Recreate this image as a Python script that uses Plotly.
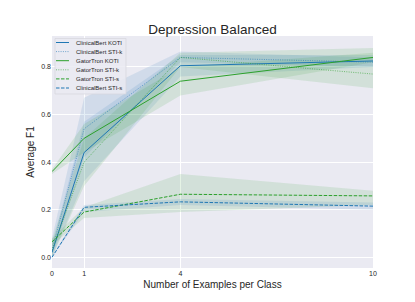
import plotly.graph_objects as go

x = [0, 1, 4, 10]

series_names = ["ClinicalBert KOTI", "ClinicalBert STI-k", "GatorTron KOTI",
                "GatorTron STI-k", "GatorTron STI-s", "ClinicalBert STI-s"]

cb_koti = [0.02, 0.44, 0.805, 0.825]
cb_koti_lo = [0.0, 0.32, 0.76, 0.80]
cb_koti_hi = [0.05, 0.57, 0.85, 0.85]

cb_stik = [0.03, 0.54, 0.84, 0.82]
cb_stik_lo = [0.0, 0.42, 0.82, 0.80]
cb_stik_hi = [0.08, 0.67, 0.865, 0.84]

gt_koti = [0.36, 0.50, 0.74, 0.84]
gt_koti_lo = [0.35, 0.44, 0.68, 0.82]
gt_koti_hi = [0.37, 0.56, 0.80, 0.86]

gt_stik = [0.03, 0.40, 0.84, 0.77]
gt_stik_lo = [0.0, 0.30, 0.80, 0.71]
gt_stik_hi = [0.07, 0.50, 0.86, 0.88]

gt_stis = [0.065, 0.19, 0.265, 0.258]
gt_stis_lo = [0.05, 0.165, 0.19, 0.22]
gt_stis_hi = [0.08, 0.21, 0.35, 0.28]

cb_stis = [0.0, 0.21, 0.233, 0.215]
cb_stis_lo = [0.0, 0.19, 0.22, 0.20]
cb_stis_hi = [0.005, 0.22, 0.245, 0.23]

BLUE = "31,119,180"
GREEN = "44,160,44"
DASH = "3.5px,1.5px"
DOT = "1px,1.3px"

specs = [
    (series_names[0], cb_koti, cb_koti_lo, cb_koti_hi, BLUE, "solid", 1.0),
    (series_names[1], cb_stik, cb_stik_lo, cb_stik_hi, BLUE, DOT, 0.6),
    (series_names[2], gt_koti, gt_koti_lo, gt_koti_hi, GREEN, "solid", 1.0),
    (series_names[3], gt_stik, gt_stik_lo, gt_stik_hi, GREEN, DOT, 0.6),
    (series_names[4], gt_stis, gt_stis_lo, gt_stis_hi, GREEN, DASH, 1.0),
    (series_names[5], cb_stis, cb_stis_lo, cb_stis_hi, BLUE, DASH, 1.0),
]

# page body adds an 8px offset; compensate so plot area lands at (52..373, 36..268)
OFF = 8
W, H = 415, 302
ML, MT = 52 - OFF, 36 - OFF
PW, PH = 321, 232
MR = W - ML - PW
MB = H - MT - PH

def px2paper_x(px):
    return (px - OFF - ML) / PW

def px2paper_y(py):
    return (MT + PH - (py - OFF)) / PH

fig = go.Figure()
for name, y, lo, hi, col, dash, a in specs:
    fig.add_trace(go.Scatter(x=x, y=lo, mode="lines", line=dict(width=0),
                             showlegend=False, hoverinfo="skip"))
    fig.add_trace(go.Scatter(x=x, y=hi, mode="lines", line=dict(width=0),
                             fill="tonexty", fillcolor=f"rgba({col},0.12)",
                             showlegend=False, hoverinfo="skip"))
for name, y, lo, hi, col, dash, a in specs:
    fig.add_trace(go.Scatter(x=x, y=y, mode="lines", name=name, showlegend=False,
                             line=dict(color=f"rgba({col},{a})", width=1, dash=dash)))

# compact legend box (matplotlib style)
shapes = [dict(type="rect", xref="paper", yref="paper",
               x0=px2paper_x(55), x1=px2paper_x(126),
               y0=px2paper_y(94), y1=px2paper_y(38.5),
               fillcolor="rgba(234,234,242,0.85)", line=dict(color="#D5D5DD", width=0.7),
               layer="above")]
annotations = []
for i, (name, y, lo, hi, col, dash, a) in enumerate(specs):
    row_y = px2paper_y(42.5 + i * 9.1)
    shapes.append(dict(type="line", xref="paper", yref="paper",
                       x0=px2paper_x(56), x1=px2paper_x(69), y0=row_y, y1=row_y,
                       line=dict(color=f"rgba({col},{a})", width=1, dash=dash),
                       layer="above"))
    annotations.append(dict(xref="paper", yref="paper", x=px2paper_x(74), y=row_y,
                            text=name, showarrow=False, xanchor="left", yanchor="middle",
                            font=dict(size=6, color="#262626")))

fig.update_layout(
    width=W, height=H,
    margin=dict(l=ML, r=MR, t=MT, b=MB),
    paper_bgcolor="white",
    plot_bgcolor="#EAEAF2",
    font=dict(family="Liberation Sans, Arial, sans-serif", color="#262626"),
    title=dict(text="Depression Balanced", xref="paper", x=0.5, xanchor="center",
               yref="container", y=1 - (29 - OFF) / H, yanchor="middle",
               font=dict(size=13.5, color="#262626")),
    showlegend=False,
    shapes=shapes,
    annotations=annotations,
)
fig.update_xaxes(range=[0, 10], tickvals=x, ticktext=[str(v) for v in x],
                 showgrid=True, gridcolor="white", gridwidth=1, zeroline=False,
                 showline=False, ticks="", tickfont=dict(size=7), automargin=False,
                 title=dict(text="Number of Examples per Class", font=dict(size=10), standoff=4))
fig.update_yaxes(range=[-0.045, 0.93], tickvals=[0, 0.2, 0.4, 0.6, 0.8],
                 ticktext=["0.0", "0.2", "0.4", "0.6", "0.8"],
                 showgrid=True, gridcolor="white", gridwidth=1, zeroline=False,
                 showline=False, ticks="", tickfont=dict(size=7), automargin=False,
                 title=dict(text="Average F1", font=dict(size=10), standoff=4))

fig.write_html("out.html")
